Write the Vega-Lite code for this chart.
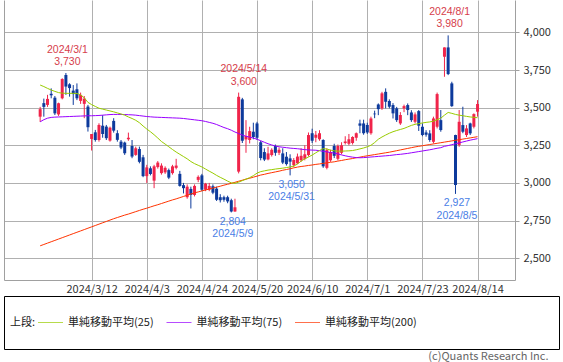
{
  "$schema": "https://vega.github.io/schema/vega-lite/v6.json",
  "padding": {"left": 3, "top": 0, "right": 0, "bottom": 0},
  "background": "white",
  "spacing": 1,
  "config": {
    "font": "Noto Sans CJK JP",
    "view": {"stroke": null},
    "text": {"font": "Noto Sans CJK JP"}
  },
  "title": {"text": "(c)Quants Research Inc.", "orient": "bottom", "anchor": "end", "offset": 1, "dx": -11, "fontSize": 11, "fontWeight": "normal", "color": "#666666", "font": "Noto Sans CJK JP"},
  "vconcat": [
    {
      "width": 511,
      "height": 280,
      "view": {"stroke": null},
      "data": {"values": [
        {"i":0,"d":"2024/2/20","o":3440,"h":3505,"l":3405,"c":3490,"m25":3650,"m75":3406,"m200":2582},
        {"i":1,"d":"2024/2/21","o":3530,"h":3560,"l":3440,"c":3505,"m25":3640,"m75":3420,"m200":2591},
        {"i":2,"d":"2024/2/22","o":3518,"h":3585,"l":3505,"c":3558,"m25":3628,"m75":3430,"m200":2600},
        {"i":3,"d":"2024/2/26","o":3592,"h":3628,"l":3562,"c":3582,"m25":3617,"m75":3435,"m200":2609},
        {"i":4,"d":"2024/2/27","o":3566,"h":3577,"l":3451,"c":3462,"m25":3608,"m75":3437,"m200":2618},
        {"i":5,"d":"2024/2/28","o":3455,"h":3533,"l":3445,"c":3529,"m25":3600,"m75":3438,"m200":2627},
        {"i":6,"d":"2024/2/29","o":3562,"h":3695,"l":3555,"c":3690,"m25":3596,"m75":3439,"m200":2636},
        {"i":7,"d":"2024/3/1","o":3717,"h":3730,"l":3585,"c":3640,"m25":3595,"m75":3440,"m200":2645,"ak":"hi","ap":3730},
        {"i":8,"d":"2024/3/4","o":3655,"h":3662,"l":3573,"c":3630,"m25":3595,"m75":3441,"m200":2654},
        {"i":9,"d":"2024/3/5","o":3613,"h":3650,"l":3518,"c":3590,"m25":3595,"m75":3442,"m200":2663},
        {"i":10,"d":"2024/3/6","o":3622,"h":3661,"l":3550,"c":3562,"m25":3594,"m75":3443,"m200":2672},
        {"i":11,"d":"2024/3/7","o":3545,"h":3600,"l":3525,"c":3585,"m25":3585,"m75":3444,"m200":2681},
        {"i":12,"d":"2024/3/8","o":3525,"h":3577,"l":3430,"c":3560,"m25":3565,"m75":3445,"m200":2690},
        {"i":13,"d":"2024/3/11","o":3507,"h":3518,"l":3341,"c":3370,"m25":3535,"m75":3446,"m200":2699},
        {"i":14,"d":"2024/3/12","o":3292,"h":3325,"l":3215,"c":3325,"m25":3520,"m75":3446,"m200":2708},
        {"i":15,"d":"2024/3/13","o":3336,"h":3352,"l":3274,"c":3285,"m25":3508,"m75":3447,"m200":2717},
        {"i":16,"d":"2024/3/14","o":3285,"h":3396,"l":3274,"c":3385,"m25":3496,"m75":3448,"m200":2726},
        {"i":17,"d":"2024/3/15","o":3380,"h":3450,"l":3300,"c":3325,"m25":3490,"m75":3450,"m200":2735},
        {"i":18,"d":"2024/3/18","o":3374,"h":3385,"l":3285,"c":3297,"m25":3484,"m75":3452,"m200":2744},
        {"i":19,"d":"2024/3/19","o":3281,"h":3374,"l":3274,"c":3367,"m25":3478,"m75":3454,"m200":2753},
        {"i":20,"d":"2024/3/21","o":3412,"h":3430,"l":3334,"c":3347,"m25":3472,"m75":3455,"m200":2762},
        {"i":21,"d":"2024/3/22","o":3330,"h":3350,"l":3274,"c":3286,"m25":3465,"m75":3455,"m200":2770},
        {"i":22,"d":"2024/3/25","o":3274,"h":3285,"l":3224,"c":3235,"m25":3458,"m75":3455,"m200":2778},
        {"i":23,"d":"2024/3/26","o":3268,"h":3274,"l":3186,"c":3197,"m25":3450,"m75":3454,"m200":2786},
        {"i":24,"d":"2024/3/27","o":3290,"h":3334,"l":3280,"c":3300,"m25":3438,"m75":3453,"m200":2793},
        {"i":25,"d":"2024/3/28","o":3245,"h":3285,"l":3164,"c":3175,"m25":3428,"m75":3452,"m200":2801},
        {"i":26,"d":"2024/3/29","o":3186,"h":3241,"l":3180,"c":3230,"m25":3416,"m75":3450,"m200":2809},
        {"i":27,"d":"2024/4/1","o":3225,"h":3241,"l":3130,"c":3140,"m25":3400,"m75":3447,"m200":2817},
        {"i":28,"d":"2024/4/2","o":3170,"h":3186,"l":3038,"c":3045,"m25":3378,"m75":3444,"m200":2825},
        {"i":29,"d":"2024/4/3","o":3045,"h":3120,"l":3000,"c":3103,"m25":3358,"m75":3441,"m200":2832},
        {"i":30,"d":"2024/4/4","o":3097,"h":3110,"l":3050,"c":3059,"m25":3340,"m75":3439,"m200":2840},
        {"i":31,"d":"2024/4/5","o":3015,"h":3120,"l":2965,"c":3110,"m25":3320,"m75":3437,"m200":2848},
        {"i":32,"d":"2024/4/8","o":3105,"h":3145,"l":3095,"c":3135,"m25":3298,"m75":3436,"m200":2855},
        {"i":33,"d":"2024/4/9","o":3065,"h":3130,"l":3055,"c":3115,"m25":3275,"m75":3435,"m200":2863},
        {"i":34,"d":"2024/4/10","o":3070,"h":3110,"l":3060,"c":3100,"m25":3258,"m75":3434,"m200":2871},
        {"i":35,"d":"2024/4/11","o":3085,"h":3095,"l":3025,"c":3035,"m25":3240,"m75":3433,"m200":2879},
        {"i":36,"d":"2024/4/12","o":3065,"h":3120,"l":3055,"c":3110,"m25":3222,"m75":3432,"m200":2887},
        {"i":37,"d":"2024/4/15","o":3100,"h":3160,"l":3090,"c":3115,"m25":3205,"m75":3431,"m200":2894},
        {"i":38,"d":"2024/4/16","o":3060,"h":3080,"l":2975,"c":2980,"m25":3190,"m75":3430,"m200":2902},
        {"i":39,"d":"2024/4/17","o":2985,"h":3000,"l":2930,"c":2965,"m25":3175,"m75":3428,"m200":2910},
        {"i":40,"d":"2024/4/18","o":2905,"h":2990,"l":2895,"c":2975,"m25":3160,"m75":3425,"m200":2918},
        {"i":41,"d":"2024/4/19","o":2960,"h":2975,"l":2830,"c":2920,"m25":3142,"m75":3422,"m200":2926},
        {"i":42,"d":"2024/4/22","o":2920,"h":2990,"l":2910,"c":2980,"m25":3128,"m75":3419,"m200":2934},
        {"i":43,"d":"2024/4/23","o":3020,"h":3050,"l":3005,"c":3040,"m25":3117,"m75":3416,"m200":2940},
        {"i":44,"d":"2024/4/24","o":3050,"h":3060,"l":2945,"c":2955,"m25":3106,"m75":3413,"m200":2947},
        {"i":45,"d":"2024/4/25","o":2955,"h":3000,"l":2945,"c":2995,"m25":3092,"m75":3408,"m200":2953},
        {"i":46,"d":"2024/4/26","o":2955,"h":3000,"l":2945,"c":2980,"m25":3078,"m75":3402,"m200":2959},
        {"i":47,"d":"2024/4/30","o":2978,"h":2990,"l":2925,"c":2935,"m25":3065,"m75":3396,"m200":2966},
        {"i":48,"d":"2024/5/1","o":2962,"h":2975,"l":2880,"c":2888,"m25":3050,"m75":3388,"m200":2972},
        {"i":49,"d":"2024/5/2","o":2905,"h":2925,"l":2870,"c":2885,"m25":3037,"m75":3378,"m200":2978},
        {"i":50,"d":"2024/5/7","o":2905,"h":2915,"l":2875,"c":2888,"m25":3025,"m75":3368,"m200":2985},
        {"i":51,"d":"2024/5/8","o":2905,"h":2915,"l":2865,"c":2877,"m25":3012,"m75":3360,"m200":2991},
        {"i":52,"d":"2024/5/9","o":2885,"h":2895,"l":2804,"c":2810,"m25":3000,"m75":3350,"m200":2997,"ak":"lo","ap":2804},
        {"i":53,"d":"2024/5/10","o":2810,"h":2895,"l":2808,"c":2838,"m25":2997,"m75":3338,"m200":3004},
        {"i":54,"d":"2024/5/13","o":3075,"h":3600,"l":3063,"c":3572,"m25":3005,"m75":3328,"m200":3011},
        {"i":55,"d":"2024/5/14","o":3555,"h":3565,"l":3265,"c":3280,"m25":3015,"m75":3318,"m200":3018,"ak":"hi","ap":3600},
        {"i":56,"d":"2024/5/15","o":3289,"h":3417,"l":3200,"c":3311,"m25":3025,"m75":3310,"m200":3025},
        {"i":57,"d":"2024/5/16","o":3285,"h":3373,"l":3262,"c":3344,"m25":3035,"m75":3304,"m200":3031},
        {"i":58,"d":"2024/5/17","o":3340,"h":3400,"l":3290,"c":3305,"m25":3048,"m75":3298,"m200":3038},
        {"i":59,"d":"2024/5/20","o":3395,"h":3406,"l":3285,"c":3300,"m25":3065,"m75":3290,"m200":3045},
        {"i":60,"d":"2024/5/21","o":3270,"h":3280,"l":3150,"c":3165,"m25":3075,"m75":3280,"m200":3052},
        {"i":61,"d":"2024/5/22","o":3205,"h":3230,"l":3145,"c":3155,"m25":3080,"m75":3270,"m200":3057},
        {"i":62,"d":"2024/5/23","o":3156,"h":3240,"l":3150,"c":3196,"m25":3085,"m75":3260,"m200":3063},
        {"i":63,"d":"2024/5/24","o":3185,"h":3230,"l":3175,"c":3220,"m25":3088,"m75":3252,"m200":3068},
        {"i":64,"d":"2024/5/27","o":3245,"h":3255,"l":3180,"c":3200,"m25":3092,"m75":3245,"m200":3073},
        {"i":65,"d":"2024/5/28","o":3200,"h":3235,"l":3185,"c":3220,"m25":3095,"m75":3240,"m200":3078},
        {"i":66,"d":"2024/5/29","o":3196,"h":3230,"l":3125,"c":3135,"m25":3098,"m75":3237,"m200":3084},
        {"i":67,"d":"2024/5/30","o":3174,"h":3205,"l":3115,"c":3125,"m25":3102,"m75":3234,"m200":3089},
        {"i":68,"d":"2024/5/31","o":3163,"h":3190,"l":3050,"c":3141,"m25":3106,"m75":3231,"m200":3094,"ak":"lo","ap":3050},
        {"i":69,"d":"2024/6/3","o":3118,"h":3165,"l":3105,"c":3152,"m25":3112,"m75":3229,"m200":3100},
        {"i":70,"d":"2024/6/4","o":3130,"h":3195,"l":3125,"c":3175,"m25":3125,"m75":3227,"m200":3105},
        {"i":71,"d":"2024/6/5","o":3150,"h":3230,"l":3140,"c":3180,"m25":3145,"m75":3224,"m200":3109},
        {"i":72,"d":"2024/6/6","o":3160,"h":3250,"l":3150,"c":3190,"m25":3160,"m75":3221,"m200":3112},
        {"i":73,"d":"2024/6/7","o":3185,"h":3335,"l":3175,"c":3318,"m25":3172,"m75":3219,"m200":3116},
        {"i":74,"d":"2024/6/10","o":3330,"h":3360,"l":3265,"c":3280,"m25":3185,"m75":3218,"m200":3119},
        {"i":75,"d":"2024/6/11","o":3300,"h":3345,"l":3270,"c":3320,"m25":3200,"m75":3217,"m200":3123},
        {"i":76,"d":"2024/6/12","o":3290,"h":3350,"l":3280,"c":3330,"m25":3215,"m75":3214,"m200":3126},
        {"i":77,"d":"2024/6/13","o":3285,"h":3290,"l":3100,"c":3110,"m25":3228,"m75":3210,"m200":3130},
        {"i":78,"d":"2024/6/14","o":3100,"h":3230,"l":3090,"c":3218,"m25":3225,"m75":3206,"m200":3133},
        {"i":79,"d":"2024/6/17","o":3150,"h":3220,"l":3140,"c":3205,"m25":3218,"m75":3202,"m200":3137},
        {"i":80,"d":"2024/6/18","o":3245,"h":3260,"l":3165,"c":3180,"m25":3213,"m75":3198,"m200":3140},
        {"i":81,"d":"2024/6/19","o":3160,"h":3255,"l":3150,"c":3245,"m25":3211,"m75":3192,"m200":3145},
        {"i":82,"d":"2024/6/20","o":3200,"h":3270,"l":3190,"c":3250,"m25":3211,"m75":3186,"m200":3149},
        {"i":83,"d":"2024/6/21","o":3265,"h":3310,"l":3255,"c":3275,"m25":3212,"m75":3180,"m200":3154},
        {"i":84,"d":"2024/6/24","o":3260,"h":3325,"l":3250,"c":3290,"m25":3213,"m75":3175,"m200":3158},
        {"i":85,"d":"2024/6/25","o":3265,"h":3310,"l":3255,"c":3305,"m25":3215,"m75":3171,"m200":3162},
        {"i":86,"d":"2024/6/26","o":3300,"h":3335,"l":3280,"c":3330,"m25":3220,"m75":3168,"m200":3167},
        {"i":87,"d":"2024/6/27","o":3395,"h":3420,"l":3330,"c":3380,"m25":3226,"m75":3167,"m200":3171},
        {"i":88,"d":"2024/6/28","o":3395,"h":3420,"l":3320,"c":3330,"m25":3232,"m75":3168,"m200":3176},
        {"i":89,"d":"2024/7/1","o":3385,"h":3400,"l":3325,"c":3335,"m25":3240,"m75":3170,"m200":3180},
        {"i":90,"d":"2024/7/2","o":3330,"h":3440,"l":3320,"c":3428,"m25":3250,"m75":3172,"m200":3184},
        {"i":91,"d":"2024/7/3","o":3460,"h":3480,"l":3430,"c":3456,"m25":3268,"m75":3174,"m200":3188},
        {"i":92,"d":"2024/7/4","o":3521,"h":3528,"l":3450,"c":3490,"m25":3290,"m75":3176,"m200":3192},
        {"i":93,"d":"2024/7/5","o":3495,"h":3605,"l":3485,"c":3595,"m25":3305,"m75":3178,"m200":3196},
        {"i":94,"d":"2024/7/8","o":3605,"h":3628,"l":3495,"c":3539,"m25":3318,"m75":3180,"m200":3200},
        {"i":95,"d":"2024/7/9","o":3544,"h":3555,"l":3495,"c":3506,"m25":3330,"m75":3182,"m200":3204},
        {"i":96,"d":"2024/7/10","o":3517,"h":3530,"l":3428,"c":3462,"m25":3340,"m75":3185,"m200":3209},
        {"i":97,"d":"2024/7/11","o":3495,"h":3505,"l":3405,"c":3417,"m25":3348,"m75":3188,"m200":3214},
        {"i":98,"d":"2024/7/12","o":3395,"h":3470,"l":3385,"c":3451,"m25":3355,"m75":3190,"m200":3219},
        {"i":99,"d":"2024/7/16","o":3495,"h":3520,"l":3470,"c":3510,"m25":3362,"m75":3193,"m200":3224},
        {"i":100,"d":"2024/7/17","o":3517,"h":3528,"l":3450,"c":3484,"m25":3372,"m75":3196,"m200":3229},
        {"i":101,"d":"2024/7/18","o":3468,"h":3483,"l":3405,"c":3417,"m25":3382,"m75":3200,"m200":3234},
        {"i":102,"d":"2024/7/19","o":3406,"h":3468,"l":3395,"c":3455,"m25":3389,"m75":3204,"m200":3239},
        {"i":103,"d":"2024/7/22","o":3477,"h":3484,"l":3345,"c":3380,"m25":3394,"m75":3208,"m200":3243},
        {"i":104,"d":"2024/7/23","o":3373,"h":3395,"l":3310,"c":3318,"m25":3398,"m75":3212,"m200":3247},
        {"i":105,"d":"2024/7/24","o":3335,"h":3350,"l":3307,"c":3320,"m25":3402,"m75":3216,"m200":3251},
        {"i":106,"d":"2024/7/25","o":3329,"h":3350,"l":3273,"c":3285,"m25":3405,"m75":3220,"m200":3255},
        {"i":107,"d":"2024/7/26","o":3273,"h":3440,"l":3262,"c":3428,"m25":3410,"m75":3225,"m200":3259},
        {"i":108,"d":"2024/7/29","o":3373,"h":3600,"l":3362,"c":3590,"m25":3420,"m75":3230,"m200":3263},
        {"i":109,"d":"2024/7/30","o":3417,"h":3484,"l":3340,"c":3351,"m25":3430,"m75":3234,"m200":3267},
        {"i":110,"d":"2024/7/31","o":3838,"h":3900,"l":3705,"c":3900,"m25":3450,"m75":3243,"m200":3271},
        {"i":111,"d":"2024/8/1","o":3900,"h":3980,"l":3716,"c":3723,"m25":3468,"m75":3248,"m200":3275,"ak":"hi","ap":3980},
        {"i":112,"d":"2024/8/2","o":3661,"h":3672,"l":3505,"c":3510,"m25":3462,"m75":3254,"m200":3279},
        {"i":113,"d":"2024/8/5","o":3318,"h":3320,"l":2927,"c":2986,"m25":3455,"m75":3260,"m200":3283,"ak":"lo","ap":2927},
        {"i":114,"d":"2024/8/6","o":3251,"h":3484,"l":3240,"c":3406,"m25":3450,"m75":3266,"m200":3287},
        {"i":115,"d":"2024/8/7","o":3384,"h":3506,"l":3330,"c":3340,"m25":3446,"m75":3272,"m200":3291},
        {"i":116,"d":"2024/8/8","o":3318,"h":3384,"l":3305,"c":3362,"m25":3442,"m75":3278,"m200":3295},
        {"i":117,"d":"2024/8/9","o":3395,"h":3400,"l":3318,"c":3329,"m25":3438,"m75":3284,"m200":3299},
        {"i":118,"d":"2024/8/13","o":3373,"h":3462,"l":3362,"c":3457,"m25":3436,"m75":3289,"m200":3303},
        {"i":119,"d":"2024/8/14","o":3473,"h":3550,"l":3440,"c":3524,"m25":3433,"m75":3294,"m200":3307}
      ]},
      "encoding": {
        "x": {
          "field": "i", "type": "quantitative",
          "scale": {"domain": [-8.48, 127.83], "zero": false, "nice": false},
          "axis": {
            "values": [14, 29, 44, 59, 74, 89, 104, 119],
            "labelExpr": "datum.value == 14 ? '2024/3/12' : datum.value == 29 ? '2024/4/3' : datum.value == 44 ? '2024/4/24' : datum.value == 59 ? '2024/5/20' : datum.value == 74 ? '2024/6/10' : datum.value == 89 ? '2024/7/1' : datum.value == 104 ? '2024/7/23' : '2024/8/14'",
            "grid": true, "gridColor": "#b0b0b0", "gridWidth": 1,
            "ticks": false, "domain": true, "domainColor": "#a0a0a0",
            "labelAngle": 0, "labelFontSize": 11, "labelColor": "#333333", "labelPadding": 3,
            "labelFont": "Noto Sans CJK JP", "labelFlush": false, "labelOverlap": false, "title": null
          }
        }
      },
      "layer": [
        {
          "mark": {"type": "rule", "strokeWidth": 1},
          "encoding": {
            "y": {"field": "l", "type": "quantitative",
              "scale": {"domain": [2355, 4215], "zero": false, "nice": false},
              "axis": {"orient": "right", "values": [2500,2750,3000,3250,3500,3750,4000],
                "labelExpr": "format(datum.value, ',')",
                "grid": true, "gridColor": "#b0b0b0", "tickSize": 4, "tickColor": "#a0a0a0",
                "domainColor": "#a0a0a0", "labelPadding": 4, "labelFontSize": 11, "labelColor": "#333333",
                "labelFont": "Noto Sans CJK JP", "labelFlush": false, "title": null}},
            "y2": {"field": "h"},
            "color": {"condition": {"test": "datum.c >= datum.o", "value": "#f0244a"}, "value": "#0d3a9c"}
          }
        },
        {
          "mark": {"type": "bar", "size": 3},
          "encoding": {
            "y": {"field": "o", "type": "quantitative",
              "axis": {"orient": "left", "labels": false, "ticks": false, "grid": false, "domain": true, "domainColor": "#a0a0a0", "title": null}},
            "y2": {"field": "c"},
            "color": {"condition": {"test": "datum.c >= datum.o", "value": "#f0244a"}, "value": "#0d3a9c"}
          }
        },
        {
          "mark": {"type": "line", "strokeWidth": 1, "color": "#ff3300"},
          "encoding": {"y": {"field": "m200", "type": "quantitative", "axis": null}}
        },
        {
          "mark": {"type": "line", "strokeWidth": 1, "color": "#9900ff"},
          "encoding": {"y": {"field": "m75", "type": "quantitative", "axis": null}}
        },
        {
          "mark": {"type": "line", "strokeWidth": 1, "color": "#99cc00"},
          "encoding": {"y": {"field": "m25", "type": "quantitative", "axis": null}}
        },
        {
          "transform": [{"filter": "datum.ak == 'hi'"}],
          "mark": {"type": "text", "baseline": "alphabetic", "align": "center", "dy": -8, "dx": 1.5, "font": "Liberation Sans", "fontSize": 10.5, "color": "#d63d4b"},
          "encoding": {"y": {"field": "ap", "type": "quantitative", "axis": null}, "text": {"field": "ap", "type": "quantitative", "format": ","}}
        },
        {
          "transform": [{"filter": "datum.ak == 'hi'"}],
          "mark": {"type": "text", "baseline": "alphabetic", "align": "center", "dy": -20.5, "dx": 1.5, "font": "Liberation Sans", "fontSize": 10.5, "color": "#d63d4b"},
          "encoding": {"y": {"field": "ap", "type": "quantitative", "axis": null}, "text": {"field": "d"}}
        },
        {
          "transform": [{"filter": "datum.ak == 'lo'"}],
          "mark": {"type": "text", "baseline": "alphabetic", "align": "center", "dy": 12.5, "dx": 1.5, "font": "Liberation Sans", "fontSize": 10.5, "color": "#4a7ee6"},
          "encoding": {"y": {"field": "ap", "type": "quantitative", "axis": null}, "text": {"field": "ap", "type": "quantitative", "format": ","}}
        },
        {
          "transform": [{"filter": "datum.ak == 'lo'"}],
          "mark": {"type": "text", "baseline": "alphabetic", "align": "center", "dy": 25, "dx": 1.5, "font": "Liberation Sans", "fontSize": 10.5, "color": "#4a7ee6"},
          "encoding": {"y": {"field": "ap", "type": "quantitative", "axis": null}, "text": {"field": "d"}}
        }
      ],
      "resolve": {"axis": {"y": "independent"}}
    },
    {
      "width": 555,
      "height": 53,
      "view": {"stroke": "#000000", "strokeWidth": 1},
      "data": {"values": [
        {"k": "25", "t": "単純移動平均(25)"},
        {"k": "75", "t": "単純移動平均(75)"},
        {"k": "200", "t": "単純移動平均(200)"}
      ]},
      "encoding": {
        "x": {"field": "k", "type": "nominal", "scale": {"type": "point", "domain": ["25","75","200"], "range": [46.5, 303.5], "padding": 0}, "axis": null}
      },
      "layer": [
        {
          "mark": {"type": "tick", "orient": "horizontal", "size": 25, "thickness": 1},
          "encoding": {
            "color": {"field": "k", "type": "nominal", "scale": {"domain": ["25","75","200"], "range": ["#99cc00","#9900ff","#ff3300"]}, "legend": null}
          }
        },
        {
          "mark": {"type": "text", "align": "left", "baseline": "middle", "dx": 17.5, "fontSize": 11, "color": "#222222"},
          "encoding": {"text": {"field": "t"}}
        },
        {
          "data": {"values": [{"t": "上段:"}]},
          "mark": {"type": "text", "align": "left", "baseline": "middle", "dx": -40.5, "fontSize": 11, "color": "#222222"},
          "encoding": {"x": {"datum": "25", "type": "nominal"}, "text": {"field": "t"}}
        }
      ]
    }
  ]
}
